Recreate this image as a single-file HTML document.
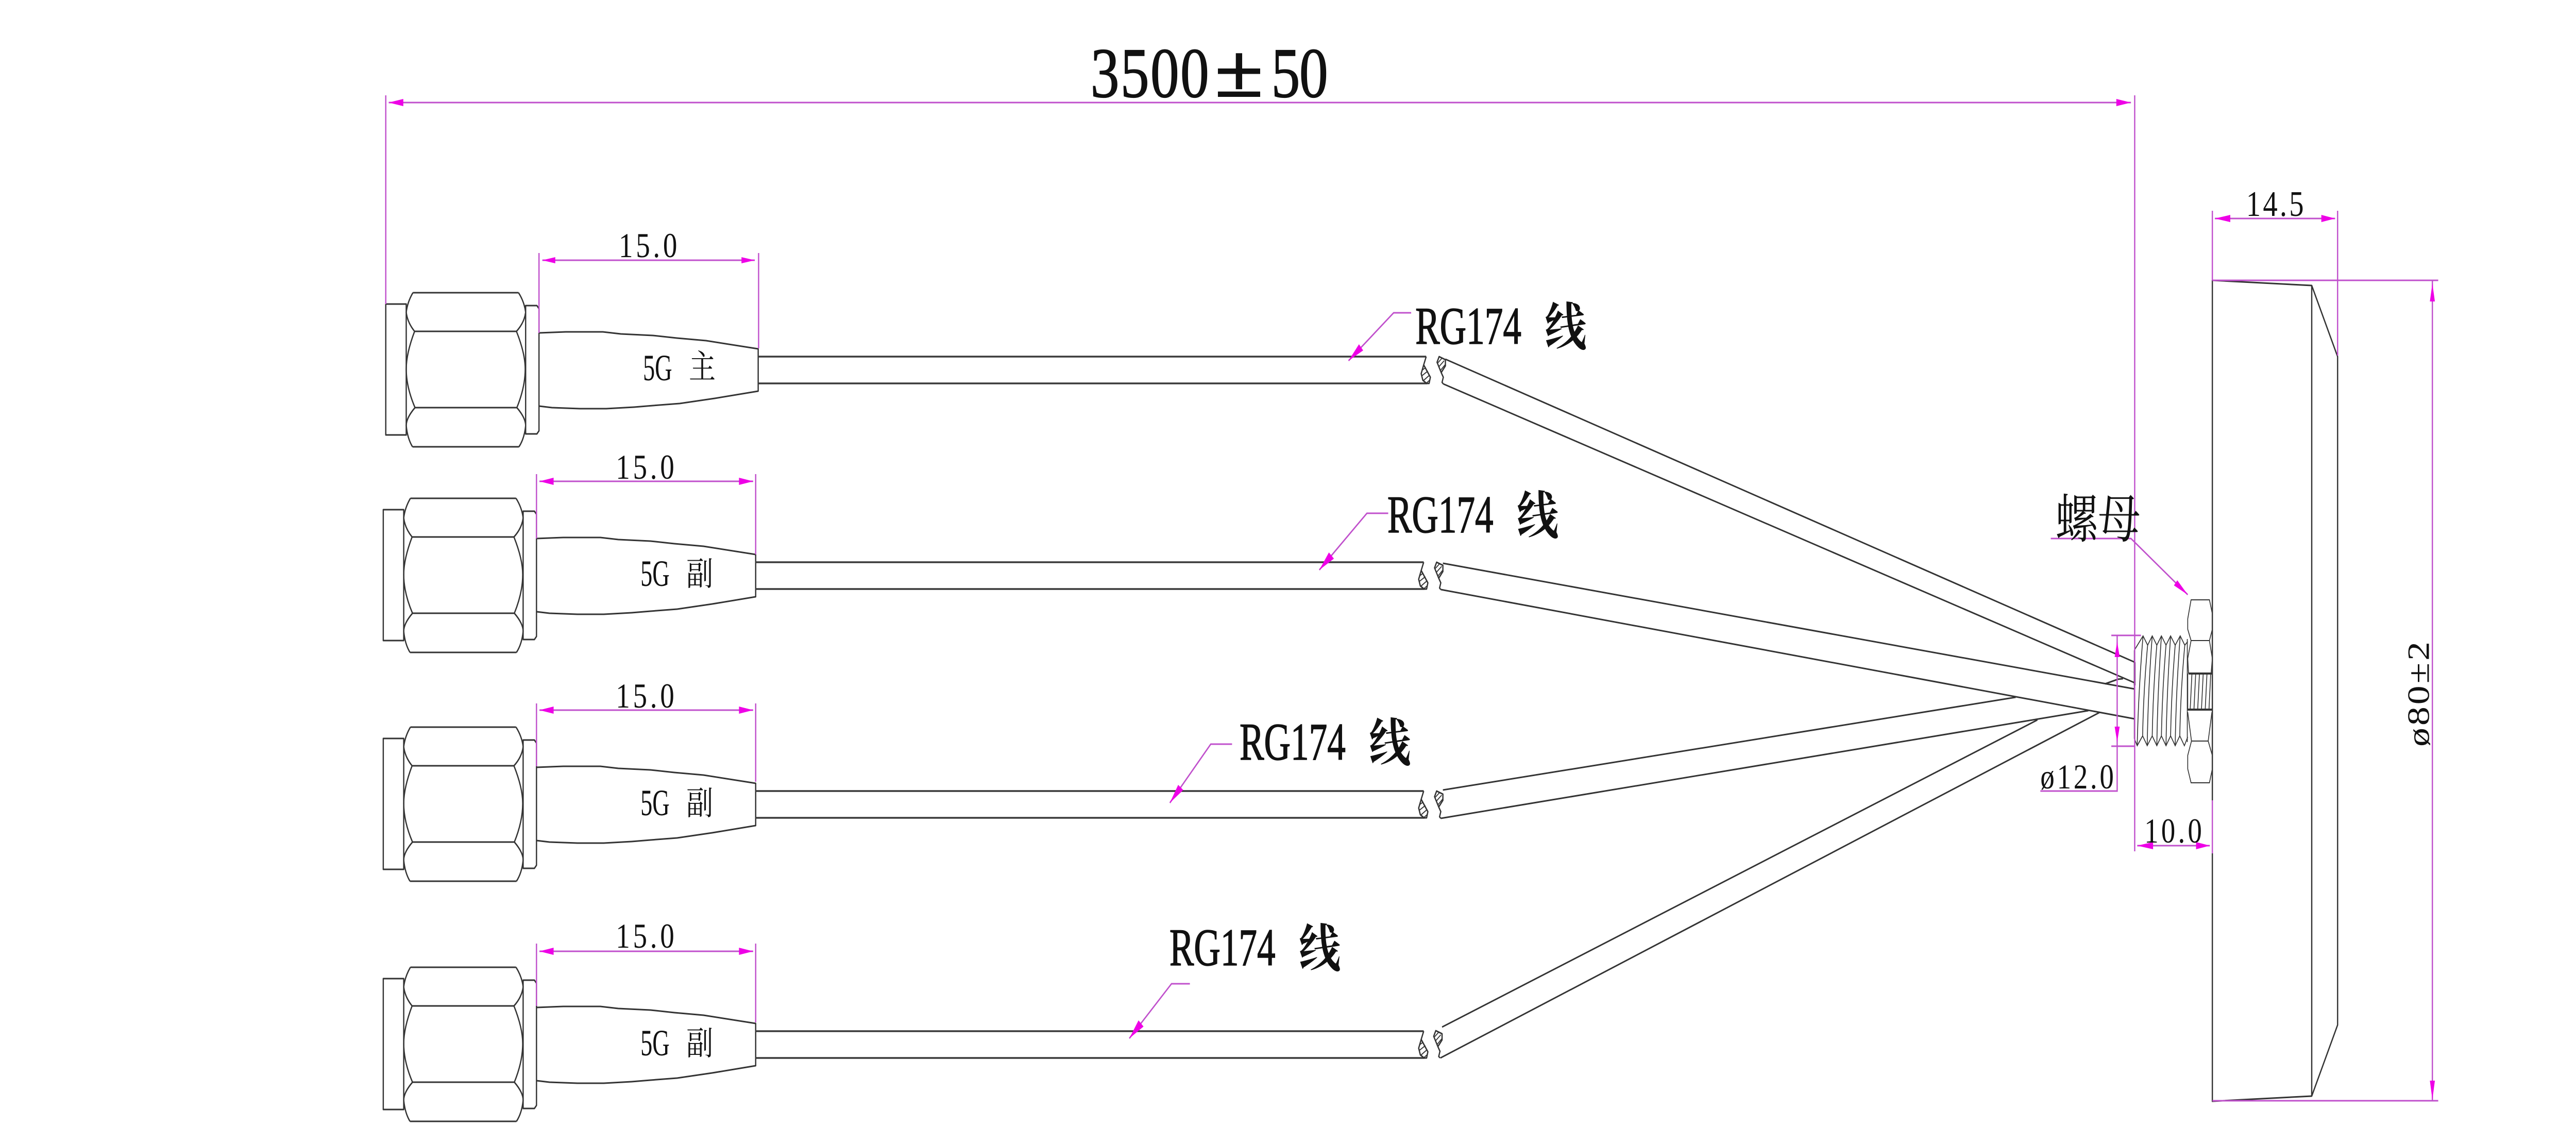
<!DOCTYPE html>
<html lang="zh">
<head>
<meta charset="utf-8">
<title>Antenna cable drawing</title>
<style>
html,body{margin:0;padding:0;background:#fff;width:100%;height:100%;overflow:hidden;}
svg{display:block;width:100vw;height:100vh;}
.k{fill:none;stroke:#333;stroke-width:3;stroke-linejoin:round;}
.c{fill:none;stroke:#3a3a3a;stroke-width:3.5;}
.t{fill:none;stroke:#333;stroke-width:2;}
.m{fill:none;stroke:#c050cc;stroke-width:3;}
.a{fill:#ee00e6;stroke:none;}
text{fill:#111;font-family:"Liberation Serif","Noto Serif CJK SC",serif;}
.cjk{font-family:"Noto Serif CJK SC","Liberation Serif",serif;}
.h{stroke:#111;stroke-width:1.5;}
</style>
</head>
<body>
<svg xmlns="http://www.w3.org/2000/svg" viewBox="0 0 6170 2218" preserveAspectRatio="none">
<rect width="6170" height="2218" fill="#fff"/>
<defs>
<g id="conn">
<rect class="k" x="918" y="989" width="49" height="254"/>
<path class="k" d="M983 967L1236 967M987 1042L1231 1042M988 1190L1232 1190M982 1266L1237 1266"/>
<path class="k" d="M983 967Q970 985 967 1005Q970 1025 987 1042Q967 1085 967 1115Q967 1150 988 1190Q967 1210 967 1225Q970 1250 982 1266"/>
<path class="k" d="M1236 967Q1250 985 1253 1005Q1250 1025 1231 1042Q1252 1085 1252 1115Q1252 1150 1232 1190Q1253 1210 1253 1225Q1250 1250 1237 1266"/>
<path class="k" d="M1253 992L1280 992L1285 998L1285 1235L1280 1241L1253 1241Z"/>
<path class="k" d="M1285 1045L1349 1043L1438 1043L1481 1047L1558 1050L1615 1055L1685 1060L1810 1076L1810 1158L1706 1172L1622 1182L1558 1186L1513 1189L1446 1192L1383 1192L1316 1190L1285 1187"/>
<path class="c" d="M1810 1091L3410 1091M1810 1143L3412 1143"/>
<path class="k" stroke-width="2" d="M3410 1091L3404 1107L3398 1124L3402 1137L3411 1143L3417 1143L3420 1131L3404 1107"/>
<path class="t" d="M3401 1117L3409 1112M3400 1128L3414 1119M3404 1137L3418 1127M3411 1142L3419 1136"/>
</g>
<g id="lens">
<path class="k" d="M0 0L-5 11L5 31L15 18L15 6ZM5 31L10 40L7 50L10 53"/>
<path class="t" d="M-3 12L7 3M-1 20L12 8M3 27L14 16"/>
</g>
</defs>

<!-- connectors -->
<use href="#conn" transform="translate(6,-399)"/>
<use href="#conn"/>
<use href="#conn" transform="translate(0,444)"/>
<use href="#conn" transform="translate(0,910)"/>

<!-- cable breaks -->
<use href="#lens" transform="translate(3447,692)"/>
<use href="#lens" transform="translate(3441,1091)"/>
<use href="#lens" transform="translate(3441,1535)"/>
<use href="#lens" transform="translate(3439,2000)"/>

<!-- angled cables -->
<g class="k">
<path d="M3462 697L5113 1285"/>
<path d="M3457 745L5113 1325"/>
<path d="M3456 1093L5113 1337"/>
<path d="M3451 1144L5113 1395"/>
<path d="M3456 1533L4828 1353"/>
<path d="M3451 1588L5002 1379"/>
<path d="M3454 1993L4880 1397"/>
<path d="M3450 2053L5030 1382"/>
<path d="M5042 1327L5073 1318L5085 1317"/>
</g>

<!-- thread -->
<g class="t">
<path d="M5112 1262L5133 1234L5144 1252L5155 1234L5166 1252L5177 1234L5188 1252L5199 1234L5210 1252L5222 1234L5233 1252L5240 1245"/>
<path d="M5112 1262L5112 1433L5119 1447L5132 1428L5143 1447L5155 1428L5166 1447L5177 1428L5188 1447L5199 1428L5210 1447L5221 1428L5232 1447L5240 1430"/>
<path d="M5133 1234Q5122 1340 5119 1447M5144 1252Q5134 1340 5132 1428M5155 1234Q5145 1340 5143 1447M5166 1252Q5157 1340 5155 1428M5177 1234Q5168 1340 5166 1447M5188 1252Q5179 1340 5177 1428M5199 1234Q5190 1340 5188 1447M5210 1252Q5201 1340 5199 1428M5222 1234Q5212 1340 5210 1447M5233 1252Q5223 1340 5221 1428"/>
<path d="M5239 1240L5239 1440"/>
</g>
<path d="M5113 1285L5113 1330" fill="none" stroke="#111" stroke-width="4"/>

<!-- nut -->
<g class="t">
<path d="M5248 1164L5292 1164L5299 1191L5299 1221L5292 1243L5248 1243L5240 1221L5240 1201Z"/>
<path d="M5248 1243L5240 1278L5242 1307M5292 1243L5299 1278L5296 1307"/>
<path d="M5240 1307L5240 1377"/>
<path d="M5240 1382L5249 1438L5289 1438L5298 1382M5249 1438L5240 1466L5240 1492L5248 1519L5292 1519L5299 1492L5299 1466L5289 1438"/>
<path d="M5250 1309L5246 1375M5259 1309L5255 1375M5268 1309L5264 1375M5277 1309L5273 1375M5286 1309L5282 1375M5295 1309L5291 1375"/>
</g>
<path d="M5242 1307L5298 1307M5240 1377L5298 1377" fill="none" stroke="#333" stroke-width="4"/>

<!-- main body -->
<path class="k" d="M5299 1553L5299 544L5537 554L5599 692L5599 1989L5537 2127L5299 2137L5299 1656"/>
<path class="k" d="M5537 554L5537 2127"/>

<!-- overall dimension -->
<path class="m" d="M931 199L5104 199M924 185L924 590M5113 185L5113 1652"/>
<polygon class="a" points="931,199 966,192 966,206"/>
<polygon class="a" points="5104,199 5069,192 5069,206"/>

<!-- 15.0 dimensions -->
<path class="m" d="M1299 505L1808 505M1291 491L1291 646M1817 491L1817 676"/>
<polygon class="a" points="1299,505 1330,499 1330,511"/>
<polygon class="a" points="1808,505 1776,499 1776,511"/>
<path class="m" d="M1292 934L1804 934M1285 920L1285 1045M1810 920L1810 1076"/>
<polygon class="a" points="1292,934 1326,927 1326,941"/>
<polygon class="a" points="1804,934 1770,927 1770,941"/>
<path class="m" d="M1292 1378L1804 1378M1285 1365L1285 1487M1810 1365L1810 1517"/>
<polygon class="a" points="1292,1378 1326,1371 1326,1385"/>
<polygon class="a" points="1804,1378 1770,1371 1770,1385"/>
<path class="m" d="M1292 1846L1804 1846M1285 1831L1285 1952M1810 1831L1810 1984"/>
<polygon class="a" points="1292,1846 1326,1839 1326,1853"/>
<polygon class="a" points="1804,1846 1770,1839 1770,1853"/>

<!-- leaders -->
<path class="m" d="M3380 607L3338 607L3230 700"/>
<polygon class="a" points="3230,700 3265,680 3255,668"/>
<path class="m" d="M3325 996L3274 996L3160 1106"/>
<polygon class="a" points="3160,1106 3195,1084 3183,1072"/>
<path class="m" d="M2951 1444L2900 1444L2802 1558"/>
<polygon class="a" points="2802,1558 2834,1533 2822,1523"/>
<path class="m" d="M2850 1909L2806 1909L2705 2015"/>
<polygon class="a" points="2705,2015 2739,1992 2727,1980"/>
<path class="m" d="M4912 1045L5104 1045L5240 1154"/>
<polygon class="a" points="5240,1154 5207,1136 5215,1126"/>

<!-- 12.0 -->
<path class="m" d="M5057 1233L5128 1233M5057 1448L5113 1448M5071 1233L5071 1535L4887 1535"/>
<polygon class="a" points="5071,1245 5065,1275 5077,1275"/>
<polygon class="a" points="5071,1440 5065,1410 5077,1410"/>

<!-- 10.0 -->
<path class="m" d="M5119 1641L5293 1641M5299 1553L5299 1656"/>
<polygon class="a" points="5119,1641 5157,1634 5157,1648"/>
<polygon class="a" points="5293,1641 5260,1634 5260,1648"/>

<!-- 14.5 & dia 80 -->
<path class="m" d="M5305 424L5593 424M5299 409L5299 544M5599 409L5599 690M5299 544L5840 544M5299 2136L5840 2136M5826 544L5826 2136"/>
<polygon class="a" points="5305,424 5342,417 5342,431"/>
<polygon class="a" points="5593,424 5560,417 5560,431"/>
<polygon class="a" points="5826,550 5820,585 5832,585"/>
<polygon class="a" points="5826,2134 5820,2097 5832,2097"/>

<!-- labels -->
<text x="2612" y="188" font-size="138" textLength="284" class="h">3500</text>
<text x="0" y="0" font-size="150" transform="translate(2908,188) scale(1.45,1)" font-weight="bold">±</text>
<text x="3045" y="188" font-size="138" textLength="136" class="h">50</text>

<text x="1482" y="499" font-size="68" textLength="140">15.0</text>
<text x="1475" y="929" font-size="68" textLength="140">15.0</text>
<text x="1475" y="1373" font-size="68" textLength="140">15.0</text>
<text x="1475" y="1839" font-size="68" textLength="140">15.0</text>

<text x="1540" y="738" font-size="72" textLength="70" lengthAdjust="spacingAndGlyphs">5G</text>
<text x="1650" y="734" font-size="64" class="cjk">主</text>
<text x="1534" y="1137" font-size="72" textLength="70" lengthAdjust="spacingAndGlyphs">5G</text>
<text x="1644" y="1136" font-size="64" class="cjk">副</text>
<text x="1534" y="1582" font-size="72" textLength="70" lengthAdjust="spacingAndGlyphs">5G</text>
<text x="1644" y="1581" font-size="64" class="cjk">副</text>
<text x="1534" y="2048" font-size="72" textLength="70" lengthAdjust="spacingAndGlyphs">5G</text>
<text x="1644" y="2047" font-size="64" class="cjk">副</text>

<text x="3390" y="667" font-size="103" textLength="254" lengthAdjust="spacingAndGlyphs" class="h">RG174</text>
<text x="3700" y="670" font-size="100" class="cjk" font-weight="bold">线</text>
<text x="3323" y="1033" font-size="103" textLength="254" lengthAdjust="spacingAndGlyphs" class="h">RG174</text>
<text x="3633" y="1036" font-size="100" class="cjk" font-weight="bold">线</text>
<text x="2969" y="1474" font-size="103" textLength="254" lengthAdjust="spacingAndGlyphs" class="h">RG174</text>
<text x="3279" y="1477" font-size="100" class="cjk" font-weight="bold">线</text>
<text x="2801" y="1873" font-size="103" textLength="254" lengthAdjust="spacingAndGlyphs" class="h">RG174</text>
<text x="3111" y="1876" font-size="100" class="cjk" font-weight="bold">线</text>

<text x="4923" y="1043" font-size="102" class="cjk">螺母</text>
<text x="4887" y="1530" font-size="68" textLength="176">ø12.0</text>
<text x="5136" y="1635" font-size="68" textLength="138">10.0</text>
<text x="5380" y="419" font-size="70" textLength="138">14.5</text>
<text transform="translate(5818,1449) rotate(-90)" font-size="74" textLength="204">ø80±2</text>
</svg>
</body>
</html>
